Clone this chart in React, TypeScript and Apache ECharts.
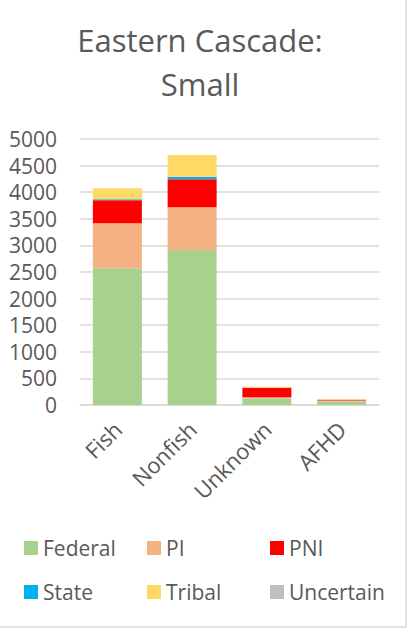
import React, { useEffect, useRef } from "react";
import * as echarts from "echarts";

const categories = ["Fish", "Nonfish", "Unknown", "AFHD"];
const federal = [2570, 2914, 125, 70];
const pi = [845, 802, 20, 15];
const pni = [433, 527, 180, 15];
const state = [18, 48, 0, 0];
const tribal = [207, 408, 20, 5];
const uncertain = [0, 0, 0, 0];

const seriesNames = ["Federal", "PI", "PNI", "State", "Tribal", "Uncertain"];
const seriesColors = ["#A9D18E", "#F4B183", "#FF0000", "#00B0F0", "#FFD966", "#BFBFBF"];
const seriesData = [federal, pi, pni, state, tribal, uncertain];

const FONT = "'Open Sans', 'Noto Sans', sans-serif";
const TEXT = "#595959";

export default function App() {
  const ref = useRef<HTMLDivElement>(null);
  useEffect(() => {
    if (!ref.current) return;
    const chart = echarts.init(ref.current, undefined, { renderer: "svg" });
    const legendBase = {
      orient: "horizontal",
      left: 24,
      padding: 0,
      itemGap: 0,
      itemWidth: 14,
      itemHeight: 14,
      icon: "rect",
      selectedMode: false,
      textStyle: { color: TEXT, fontSize: 21, fontFamily: FONT, width: 104, lineHeight: 24 },
    };
    chart.setOption({
      animation: false,
      backgroundColor: "#ffffff",
      graphic: [
        { type: "text", x: 200, y: 40, style: { text: "Eastern Cascade:", fill: TEXT, font: `31px ${FONT}`, textAlign: "center", textVerticalAlign: "middle" } },
        { type: "text", x: 200, y: 84, style: { text: "Small", fill: TEXT, font: `31px ${FONT}`, textAlign: "center", textVerticalAlign: "middle" } },
        { type: "line", shape: { x1: 406, y1: 0, x2: 406, y2: 627 }, style: { stroke: "#d9d9d9", lineWidth: 1.5 } },
        { type: "line", shape: { x1: 0, y1: 627, x2: 406, y2: 627 }, style: { stroke: "#d9d9d9", lineWidth: 1.5 } },
      ],
      legend: [
        { ...legendBase, top: 536, data: seriesNames.slice(0, 3) },
        { ...legendBase, top: 580, data: seriesNames.slice(3, 6) },
      ],
      grid: { left: 80, right: 30, top: 139, bottom: 230, containLabel: false, outerBoundsMode: "none" },
      xAxis: {
        type: "category",
        data: categories,
        axisLine: { show: true, lineStyle: { color: "#d9d9d9", width: 1.5 } },
        axisTick: { show: false },
        axisLabel: { rotate: 45, margin: 20, color: TEXT, fontSize: 22, fontFamily: FONT, interval: 0 },
      },
      yAxis: {
        type: "value",
        min: 0,
        max: 5000,
        interval: 500,
        axisLine: { show: false },
        axisTick: { show: false },
        splitLine: { lineStyle: { color: "#d9d9d9", width: 1.5 } },
        axisLabel: { margin: 23, color: TEXT, fontSize: 21, fontFamily: FONT, formatter: (v: number) => String(v) },
      },
      series: seriesNames.map((name, i) => ({
        name,
        type: "bar",
        stack: "total",
        barWidth: 49,
        data: seriesData[i],
        itemStyle: { color: seriesColors[i] },
      })),
    });
    return () => chart.dispose();
  }, []);
  return <div ref={ref} style={{ position: "fixed", left: 0, top: 0, width: 409, height: 635 }} />;
}
